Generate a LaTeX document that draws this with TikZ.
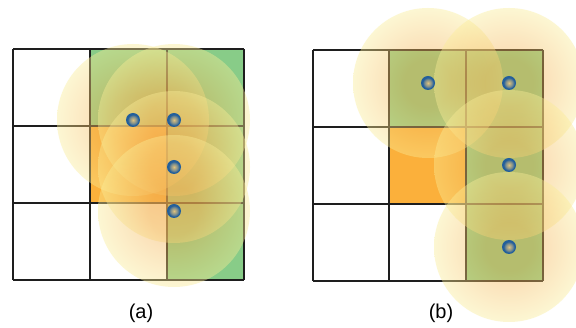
\documentclass[tikz,border=0pt]{standalone}
\usepackage{fontspec}
\setmainfont{Liberation Sans}
\definecolor{cellgreen}{RGB}{136,204,136}
\definecolor{cellorange}{RGB}{251,176,59}
\definecolor{haloc}{RGB}{244,170,75}
\definecolor{halor}{RGB}{250,236,150}
\definecolor{dotc}{RGB}{225,195,125}
\definecolor{dotr}{RGB}{35,95,155}
\definecolor{gridc}{RGB}{30,30,30}
\pgfdeclareradialshading{halo}{\pgfpoint{0bp}{0bp}}{color(0bp)=(haloc); color(8bp)=(haloc); color(25bp)=(halor); color(50bp)=(halor)}
\pgfdeclareradialshading{dotshade}{\pgfpoint{0bp}{0bp}}{color(0bp)=(dotc); color(14bp)=(dotr!60!dotc); color(19bp)=(dotr); color(25bp)=(dotr); color(50bp)=(dotr)}
\tikzset{
  gridline/.style={draw=gridc, line width=1.2pt},
  greencell/.style={fill=cellgreen},
  orangecell/.style={fill=cellorange},
  halostyle/.style={shading=halo, fill opacity=0.42},
  dotstyle/.style={shading=dotshade},
  caption/.style={font=\fontsize{20pt}{22pt}\selectfont, inner sep=0pt}
}
\begin{document}
\begin{tikzpicture}[x=1pt,y=-1pt]
\useasboundingbox (0,0) rectangle (576,328);
\fill[white] (0,0) rectangle (576,328);
% ---------- panel (a) ----------
\begin{scope}
\fill[greencell] (90,49) rectangle (244,126);
\fill[greencell] (167,126) rectangle (244,280);
\fill[orangecell] (90,126) rectangle (167,203);
\foreach \x in {13,90,167,244} \draw[gridline] (\x,49) -- (\x,280);
\foreach \y in {49,126,203,280} \draw[gridline] (13,\y) -- (244,\y);
\coordinate (a1) at (133,120);
\coordinate (a2) at (174,120);
\coordinate (a3) at (174,167);
\coordinate (a4) at (174,211);
\foreach \c in {a1,a2,a3,a4} \shade[halostyle] (\c) circle (76pt);
\foreach \c in {a1,a2,a3,a4} \shade[dotstyle] (\c) circle (7pt);
\node[caption] (capa) at (141,313) {(a)};
\end{scope}
% ---------- panel (b) ----------
\begin{scope}
\fill[greencell] (389,50) rectangle (543,127);
\fill[greencell] (466,127) rectangle (543,281);
\fill[orangecell] (389,127) rectangle (466,204);
\foreach \x in {313,389,466,543} \draw[gridline] (\x,50) -- (\x,281);
\foreach \y in {50,127,204,281} \draw[gridline] (313,\y) -- (543,\y);
\coordinate (b1) at (428,83);
\coordinate (b2) at (509,83);
\coordinate (b3) at (509,165);
\coordinate (b4) at (509,247);
\foreach \c in {b1,b2,b3,b4} \shade[halostyle] (\c) circle (75pt);
\foreach \c in {b1,b2,b3,b4} \shade[dotstyle] (\c) circle (7pt);
\node[caption] (capb) at (441,313) {(b)};
\end{scope}
\end{tikzpicture}
\end{document}
